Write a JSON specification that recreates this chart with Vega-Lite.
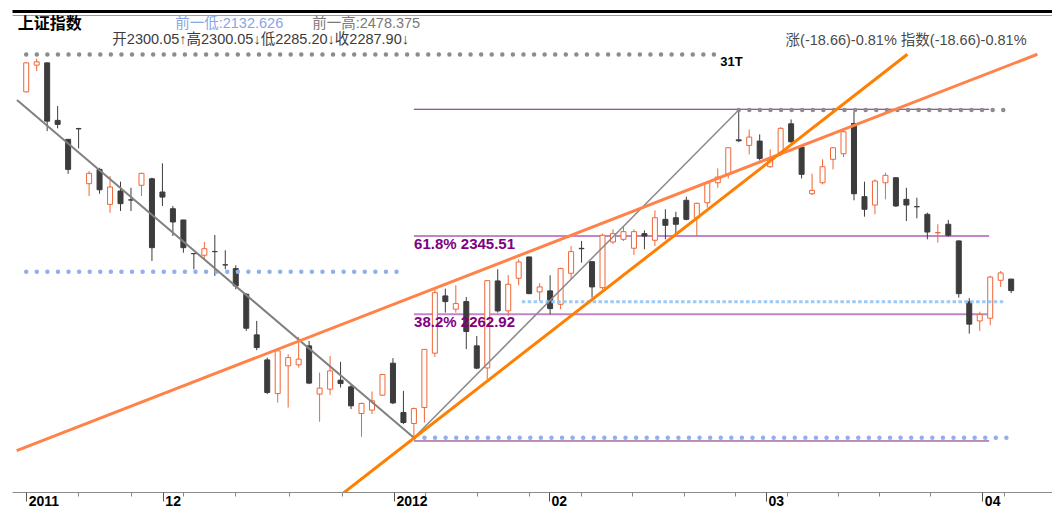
{
  "$schema": "https://vega.github.io/schema/vega-lite/v6.json",
  "width": 1040,
  "height": 477,
  "autosize": {"type": "none"},
  "padding": {"left": 12, "top": 15, "right": 0, "bottom": 16},
  "background": "white",
  "config": {"view": {"stroke": null}, "axis": {"grid": false}},
  "datasets": {
    "candles": [
      {"d":0,"o":2497.6,"h":2528.9,"l":2496.8,"c":2528.2},
      {"d":1,"o":2525.8,"h":2532.8,"l":2519.5,"c":2529.3},
      {"d":2,"o":2528.2,"h":2528.5,"l":2456.2,"c":2466.7},
      {"d":3,"o":2467.5,"h":2482.6,"l":2459.1,"c":2463.3},
      {"d":4,"o":2447.5,"h":2447.8,"l":2411.2,"c":2415.8},
      {"d":5,"o":2458.8,"h":2459.7,"l":2438.0,"c":2458.6},
      {"d":6,"o":2400.7,"h":2414.0,"l":2387.7,"c":2411.6},
      {"d":7,"o":2415.8,"h":2417.5,"l":2390.1,"c":2394.3},
      {"d":8,"o":2378.9,"h":2408.8,"l":2370.1,"c":2397.2},
      {"d":9,"o":2393.0,"h":2402.8,"l":2371.9,"c":2379.6},
      {"d":10,"o":2383.6,"h":2396.4,"l":2371.9,"c":2383.5},
      {"d":11,"o":2399.0,"h":2412.3,"l":2387.7,"c":2411.6},
      {"d":12,"o":2405.9,"h":2407.0,"l":2319.2,"c":2333.2},
      {"d":13,"o":2391.9,"h":2422.2,"l":2377.2,"c":2386.6},
      {"d":14,"o":2374.3,"h":2377.2,"l":2345.5,"c":2360.3},
      {"d":15,"o":2362.4,"h":2362.6,"l":2327.9,"c":2333.2},
      {"d":16,"o":2327.0,"h":2327.1,"l":2310.4,"c":2326.9},
      {"d":17,"o":2325.2,"h":2339.2,"l":2321.0,"c":2332.1},
      {"d":18,"o":2329.1,"h":2346.6,"l":2303.4,"c":2329.0},
      {"d":19,"o":2315.1,"h":2330.5,"l":2310.4,"c":2315.0},
      {"d":20,"o":2311.1,"h":2314.6,"l":2289.3,"c":2292.8},
      {"d":21,"o":2284.1,"h":2285.1,"l":2245.4,"c":2248.2},
      {"d":22,"o":2241.2,"h":2255.9,"l":2225.0,"c":2227.8},
      {"d":23,"o":2214.8,"h":2217.2,"l":2178.7,"c":2180.4},
      {"d":24,"o":2179.3,"h":2226.1,"l":2169.8,"c":2224.3},
      {"d":25,"o":2208.5,"h":2220.8,"l":2164.5,"c":2217.2},
      {"d":26,"o":2209.6,"h":2239.1,"l":2206.7,"c":2215.6},
      {"d":27,"o":2229.6,"h":2234.8,"l":2189.2,"c":2190.3},
      {"d":28,"o":2178.7,"h":2201.4,"l":2149.5,"c":2185.0},
      {"d":29,"o":2183.9,"h":2219.0,"l":2177.9,"c":2203.2},
      {"d":30,"o":2193.4,"h":2212.7,"l":2185.6,"c":2189.8},
      {"d":31,"o":2186.4,"h":2189.2,"l":2162.9,"c":2166.3},
      {"d":32,"o":2158.2,"h":2169.8,"l":2133.7,"c":2168.8},
      {"d":33,"o":2161.8,"h":2181.4,"l":2157.6,"c":2171.6},
      {"d":34,"o":2177.6,"h":2199.7,"l":2176.9,"c":2199.4},
      {"d":35,"o":2211.3,"h":2216.6,"l":2168.1,"c":2169.4},
      {"d":36,"o":2159.3,"h":2182.1,"l":2147.0,"c":2148.7},
      {"d":37,"o":2147.7,"h":2164.5,"l":2132.63,"c":2163.4},
      {"d":38,"o":2164.5,"h":2226.1,"l":2148.7,"c":2225.9},
      {"d":39,"o":2221.9,"h":2289.3,"l":2218.0,"c":2285.7},
      {"d":40,"o":2282.3,"h":2290.0,"l":2264.7,"c":2276.3},
      {"d":41,"o":2268.3,"h":2293.6,"l":2264.7,"c":2274.2},
      {"d":42,"o":2276.3,"h":2281.2,"l":2226.1,"c":2244.7},
      {"d":43,"o":2229.6,"h":2240.1,"l":2205.0,"c":2206.1},
      {"d":44,"o":2206.3,"h":2298.8,"l":2194.5,"c":2298.4},
      {"d":45,"o":2298.1,"h":2310.4,"l":2264.7,"c":2266.5},
      {"d":46,"o":2266.5,"h":2304.4,"l":2261.2,"c":2294.6},
      {"d":47,"o":2300.9,"h":2321.0,"l":2293.6,"c":2318.1},
      {"d":48,"o":2323.4,"h":2323.6,"l":2284.1,"c":2284.7},
      {"d":49,"o":2286.5,"h":2295.7,"l":2277.0,"c":2291.8},
      {"d":50,"o":2287.6,"h":2304.1,"l":2263.0,"c":2268.9},
      {"d":51,"o":2273.5,"h":2312.1,"l":2268.3,"c":2311.1},
      {"d":52,"o":2306.2,"h":2335.0,"l":2299.9,"c":2329.0},
      {"d":53,"o":2332.5,"h":2340.3,"l":2317.4,"c":2332.1},
      {"d":54,"o":2318.4,"h":2319.2,"l":2280.5,"c":2291.8},
      {"d":55,"o":2291.0,"h":2348.0,"l":2289.3,"c":2346.3},
      {"d":56,"o":2339.2,"h":2352.6,"l":2337.1,"c":2348.0},
      {"d":57,"o":2342.0,"h":2356.1,"l":2340.3,"c":2350.1},
      {"d":58,"o":2332.6,"h":2352.6,"l":2325.5,"c":2350.1},
      {"d":59,"o":2348.0,"h":2351.5,"l":2331.5,"c":2345.5},
      {"d":60,"o":2341.0,"h":2372.6,"l":2335.0,"c":2364.8},
      {"d":61,"o":2363.1,"h":2373.7,"l":2342.0,"c":2356.8},
      {"d":62,"o":2364.8,"h":2371.1,"l":2348.0,"c":2357.9},
      {"d":63,"o":2383.2,"h":2387.0,"l":2362.1,"c":2363.1},
      {"d":64,"o":2364.8,"h":2380.6,"l":2345.5,"c":2380.0},
      {"d":65,"o":2380.6,"h":2403.5,"l":2375.4,"c":2401.7},
      {"d":66,"o":2401.7,"h":2416.9,"l":2396.4,"c":2407.7},
      {"d":67,"o":2411.2,"h":2439.3,"l":2406.3,"c":2438.6},
      {"d":68,"o":2447.0,"h":2478.375,"l":2444.5,"c":2446.0},
      {"d":69,"o":2441.1,"h":2458.0,"l":2431.6,"c":2449.9},
      {"d":70,"o":2445.7,"h":2452.7,"l":2425.3,"c":2427.4},
      {"d":71,"o":2418.6,"h":2436.9,"l":2417.5,"c":2425.6},
      {"d":72,"o":2433.3,"h":2460.4,"l":2429.9,"c":2459.1},
      {"d":73,"o":2463.9,"h":2468.5,"l":2443.9,"c":2444.9},
      {"d":74,"o":2439.3,"h":2439.5,"l":2406.3,"c":2410.6},
      {"d":75,"o":2390.1,"h":2411.2,"l":2388.7,"c":2393.7},
      {"d":76,"o":2401.7,"h":2426.4,"l":2400.0,"c":2418.6},
      {"d":77,"o":2426.4,"h":2439.3,"l":2415.8,"c":2438.6},
      {"d":78,"o":2432.3,"h":2456.2,"l":2428.8,"c":2455.5},
      {"d":79,"o":2464.3,"h":2476.6,"l":2383.2,"c":2390.1},
      {"d":80,"o":2387.0,"h":2402.8,"l":2365.9,"c":2373.7},
      {"d":81,"o":2378.2,"h":2405.3,"l":2368.4,"c":2403.5},
      {"d":82,"o":2401.7,"h":2412.3,"l":2384.2,"c":2409.5},
      {"d":83,"o":2407.0,"h":2407.2,"l":2376.1,"c":2377.2},
      {"d":84,"o":2384.2,"h":2396.4,"l":2361.3,"c":2378.2},
      {"d":85,"o":2376.5,"h":2385.9,"l":2364.2,"c":2376.4},
      {"d":86,"o":2368.4,"h":2370.1,"l":2342.0,"c":2349.7},
      {"d":87,"o":2348.9,"h":2357.9,"l":2338.5,"c":2349.1},
      {"d":88,"o":2357.9,"h":2362.4,"l":2344.8,"c":2346.3},
      {"d":89,"o":2340.3,"h":2341.0,"l":2280.5,"c":2284.7},
      {"d":90,"o":2276.0,"h":2279.9,"l":2242.5,"c":2252.5},
      {"d":91,"o":2255.9,"h":2265.7,"l":2245.4,"c":2262.8},
      {"d":92,"o":2258.8,"h":2303.4,"l":2251.4,"c":2302.2},
      {"d":93,"o":2298.8,"h":2308.6,"l":2291.8,"c":2306.56},
      {"d":94,"o":2300.05,"h":2300.05,"l":2285.2,"c":2287.9}
    ],
    "fibDark": [
      {"x1": 37, "x2": 91.9, "v": 2479.24},
      {"x1": 37, "x2": 91.9, "v": 2129.24}
    ],
    "fibLight": [
      {"x1": 37, "x2": 91.9, "v": 2345.51},
      {"x1": 37, "x2": 91.9, "v": 2262.92}
    ],
    "fibLabels": [
      {"x": 37.02, "v": 2345.51, "t": "61.8% 2345.51"},
      {"x": 37.02, "v": 2262.92, "t": "38.2% 2262.92"}
    ],
    "dotsGray": [
      {"x1": 0, "x2": 66, "v": 2537.0},
      {"x1": 68, "x2": 94, "v": 2478.375}
    ],
    "dotsBlue": [
      {"x1": 0, "x2": 36, "v": 2307.9},
      {"x1": 37, "x2": 94, "v": 2132.626}
    ],
    "dashBlue": [
      {"x1": 47.3, "x2": 93.45, "v": 2276.2}
    ],
    "trendGrayDown": [{"x1": -0.88, "y1": 2489.1, "x2": 37, "y2": 2132.626}],
    "trendGrayUp": [{"x1": 37, "y1": 2132.626, "x2": 68, "y2": 2478.375}],
    "trendOrangeLight": [{"x1": -0.91, "y1": 2119.0, "x2": 96.5, "y2": 2537.3}],
    "trendOrangeDark": [{"x1": 30.28, "y1": 2074.4, "x2": 84.1, "y2": 2537.3}],
    "header": [
      {"x": 14.22, "y": 2568.7, "t": "前一低:2132.626", "role": "lo"},
      {"x": 27.29, "y": 2568.7, "t": "前一高:2478.375", "role": "hi"},
      {"x": 8.22, "y": 2552.4, "t": "开2300.05↑高2300.05↓低2285.20↓收2287.90↓", "role": "ohlc"},
      {"x": 72.47, "y": 2551.3, "t": "涨(-18.66)-0.81% 指数(-18.66)-0.81%", "role": "chg"}
    ],
    "titleText": [{"x": -0.8, "y": 2568.7, "t": "上证指数"}],
    "markText": [{"x": 66.23, "y": 2529.4, "t": "31T"}]
  },
  "layer": [
    {
      "data": {"name": "fibDark"},
      "mark": {"type": "rule", "color": "#7a1f7a", "strokeWidth": 1},
      "encoding": {
        "x": {"field": "x1", "type": "quantitative", "scale": {"domain": [-0.879, 97.42], "nice": false, "zero": false}, "axis": null},
        "x2": {"field": "x2"},
        "y": {"field": "v", "type": "quantitative", "scale": {"domain": [2075.4, 2578.7], "nice": false, "zero": false}, "axis": null}
      }
    },
    {
      "data": {"name": "fibLight"},
      "mark": {"type": "rule", "color": "#c286c8", "strokeWidth": 2},
      "encoding": {
        "x": {"field": "x1", "type": "quantitative", "scale": {"domain": [-0.879, 97.42], "nice": false, "zero": false}, "axis": null},
        "x2": {"field": "x2"},
        "y": {"field": "v", "type": "quantitative", "scale": {"domain": [2075.4, 2578.7], "nice": false, "zero": false}, "axis": null}
      }
    },
    {
      "data": {"name": "candles"},
      "mark": {"type": "rule", "strokeWidth": 1},
      "encoding": {
        "x": {"field": "d", "type": "quantitative", "scale": {"domain": [-0.879, 97.42], "nice": false, "zero": false},
          "axis": {"orient": "bottom", "values": [0, 4.91, 9.96, 13.04, 15.0, 19.94, 25.09, 30.12, 35.1, 38.09, 43.04, 48.02, 49.9, 52.9, 57.84, 62.73, 67.62, 70.6, 72.6, 77.5, 81.4, 86.3, 91.25, 93.3],
            "tickSize": 4, "tickColor": "#888888", "labels": false, "domainColor": "#8c8c8c", "grid": false, "title": null}},
        "y": {"field": "l", "type": "quantitative", "scale": {"domain": [2075.4, 2578.7], "nice": false, "zero": false},
          "axis": {"orient": "left", "domainColor": "#8c8c8c", "ticks": false, "labels": false, "grid": false, "title": null}},
        "y2": {"field": "h"},
        "stroke": {"condition": {"test": "datum.c > datum.o", "value": "#ef6637"}, "value": "#3c3c3c"}
      }
    },
    {
      "data": {"name": "candles"},
      "mark": {"type": "bar", "size": 5, "strokeWidth": 1},
      "encoding": {
        "x": {"field": "d", "type": "quantitative", "scale": {"domain": [-0.879, 97.42], "nice": false, "zero": false},
          "axis": {"orient": "bottom", "values": [0, 13.04, 35.1, 49.9, 70.6, 91.25],
            "labelExpr": "datum.value < 1 ? '2011' : datum.value < 14 ? '12' : datum.value < 36 ? '2012' : datum.value < 50 ? '02' : datum.value < 71 ? '03' : '04'",
            "tickSize": 9, "tickColor": "#555555", "domain": false, "labelAlign": "left", "labelBaseline": "alphabetic",
            "labelPadding": 4, "labelOffset": 2, "labelFont": "Liberation Sans", "labelFontSize": 14, "labelFontWeight": "bold",
            "labelColor": "#000000", "labelFlush": false, "labelOverlap": false, "labelBound": false, "grid": false, "title": null}},
        "y": {"field": "o", "type": "quantitative", "scale": {"domain": [2075.4, 2578.7], "nice": false, "zero": false}, "axis": null},
        "y2": {"field": "c"},
        "fill": {"condition": {"test": "datum.c > datum.o", "value": "#ffffff"}, "value": "#3c3c3c"},
        "stroke": {"condition": {"test": "datum.c > datum.o", "value": "#ef6637"}, "value": "#3c3c3c"}
      }
    },
    {
      "data": {"name": "dotsGray"},
      "mark": {"type": "rule", "color": "#8c8c8c", "strokeWidth": 4.5, "strokeDash": [0, 10.58], "strokeCap": "round"},
      "encoding": {
        "x": {"field": "x1", "type": "quantitative", "scale": {"domain": [-0.879, 97.42], "nice": false, "zero": false},
          "axis": {"orient": "top", "domainColor": "#9a9a9a", "ticks": false, "labels": false, "grid": false, "title": null}},
        "x2": {"field": "x2"},
        "y": {"field": "v", "type": "quantitative", "scale": {"domain": [2075.4, 2578.7], "nice": false, "zero": false}, "axis": null}
      }
    },
    {
      "data": {"name": "dotsBlue"},
      "mark": {"type": "rule", "color": "#8fb0ec", "strokeWidth": 4.5, "strokeDash": [0, 10.58], "strokeCap": "round"},
      "encoding": {
        "x": {"field": "x1", "type": "quantitative", "scale": {"domain": [-0.879, 97.42], "nice": false, "zero": false},
          "axis": {"orient": "top", "offset": 4, "domainColor": "#000000", "domainWidth": 3, "ticks": false, "labels": false, "grid": false, "title": null}},
        "x2": {"field": "x2"},
        "y": {"field": "v", "type": "quantitative", "scale": {"domain": [2075.4, 2578.7], "nice": false, "zero": false}, "axis": null}
      }
    },
    {
      "data": {"name": "dashBlue"},
      "mark": {"type": "rule", "color": "#9ccaf6", "strokeWidth": 3, "strokeDash": [3.5, 2.4]},
      "encoding": {
        "x": {"field": "x1", "type": "quantitative", "scale": {"domain": [-0.879, 97.42], "nice": false, "zero": false}, "axis": null},
        "x2": {"field": "x2"},
        "y": {"field": "v", "type": "quantitative", "scale": {"domain": [2075.4, 2578.7], "nice": false, "zero": false}, "axis": null}
      }
    },
    {
      "data": {"name": "trendGrayDown"},
      "mark": {"type": "rule", "color": "#808080", "strokeWidth": 2, "clip": true},
      "encoding": {
        "x": {"field": "x1", "type": "quantitative", "scale": {"domain": [-0.879, 97.42], "nice": false, "zero": false}, "axis": null},
        "x2": {"field": "x2"},
        "y": {"field": "y1", "type": "quantitative", "scale": {"domain": [2075.4, 2578.7], "nice": false, "zero": false}, "axis": null},
        "y2": {"field": "y2"}
      }
    },
    {
      "data": {"name": "trendGrayUp"},
      "mark": {"type": "rule", "color": "#8a8a8a", "strokeWidth": 1.5, "clip": true},
      "encoding": {
        "x": {"field": "x1", "type": "quantitative", "scale": {"domain": [-0.879, 97.42], "nice": false, "zero": false}, "axis": null},
        "x2": {"field": "x2"},
        "y": {"field": "y1", "type": "quantitative", "scale": {"domain": [2075.4, 2578.7], "nice": false, "zero": false}, "axis": null},
        "y2": {"field": "y2"}
      }
    },
    {
      "data": {"name": "trendOrangeLight"},
      "mark": {"type": "rule", "color": "#ff8248", "strokeWidth": 3, "clip": true},
      "encoding": {
        "x": {"field": "x1", "type": "quantitative", "scale": {"domain": [-0.879, 97.42], "nice": false, "zero": false}, "axis": null},
        "x2": {"field": "x2"},
        "y": {"field": "y1", "type": "quantitative", "scale": {"domain": [2075.4, 2578.7], "nice": false, "zero": false}, "axis": null},
        "y2": {"field": "y2"}
      }
    },
    {
      "data": {"name": "trendOrangeDark"},
      "mark": {"type": "rule", "color": "#ff8000", "strokeWidth": 3, "clip": true},
      "encoding": {
        "x": {"field": "x1", "type": "quantitative", "scale": {"domain": [-0.879, 97.42], "nice": false, "zero": false}, "axis": null},
        "x2": {"field": "x2"},
        "y": {"field": "y1", "type": "quantitative", "scale": {"domain": [2075.4, 2578.7], "nice": false, "zero": false}, "axis": null},
        "y2": {"field": "y2"}
      }
    },
    {
      "data": {"name": "fibLabels"},
      "mark": {"type": "text", "align": "left", "baseline": "top", "dy": 1, "font": "Liberation Sans", "fontSize": 15, "fontWeight": "bold", "color": "#800080"},
      "encoding": {
        "x": {"field": "x", "type": "quantitative", "scale": {"domain": [-0.879, 97.42], "nice": false, "zero": false}, "axis": null},
        "y": {"field": "v", "type": "quantitative", "scale": {"domain": [2075.4, 2578.7], "nice": false, "zero": false}, "axis": null},
        "text": {"field": "t"}
      }
    },
    {
      "data": {"name": "header"},
      "mark": {"type": "text", "align": "left", "baseline": "middle", "font": "Liberation Sans, Noto Sans CJK SC", "fontSize": 14.5},
      "encoding": {
        "x": {"field": "x", "type": "quantitative", "scale": {"domain": [-0.879, 97.42], "nice": false, "zero": false}, "axis": null},
        "y": {"field": "y", "type": "quantitative", "scale": {"domain": [2075.4, 2578.7], "nice": false, "zero": false}, "axis": null},
        "text": {"field": "t"},
        "color": {"field": "role", "type": "nominal", "scale": {"domain": ["lo", "hi", "ohlc", "chg"], "range": ["#86a6e6", "#7a7a7a", "#3c3c3c", "#4a4a4a"]}, "legend": null}
      }
    },
    {
      "data": {"name": "titleText"},
      "mark": {"type": "text", "align": "left", "baseline": "middle", "font": "Noto Sans CJK SC", "fontSize": 16, "fontWeight": "bold", "color": "#000000"},
      "encoding": {
        "x": {"field": "x", "type": "quantitative", "scale": {"domain": [-0.879, 97.42], "nice": false, "zero": false}, "axis": null},
        "y": {"field": "y", "type": "quantitative", "scale": {"domain": [2075.4, 2578.7], "nice": false, "zero": false}, "axis": null},
        "text": {"field": "t"}
      }
    },
    {
      "data": {"name": "markText"},
      "mark": {"type": "text", "align": "left", "baseline": "middle", "font": "Liberation Sans", "fontSize": 13, "fontWeight": "bold", "color": "#000000"},
      "encoding": {
        "x": {"field": "x", "type": "quantitative", "scale": {"domain": [-0.879, 97.42], "nice": false, "zero": false}, "axis": null},
        "y": {"field": "y", "type": "quantitative", "scale": {"domain": [2075.4, 2578.7], "nice": false, "zero": false}, "axis": null},
        "text": {"field": "t"}
      }
    }
  ],
  "resolve": {"axis": {"x": "independent"}}
}
